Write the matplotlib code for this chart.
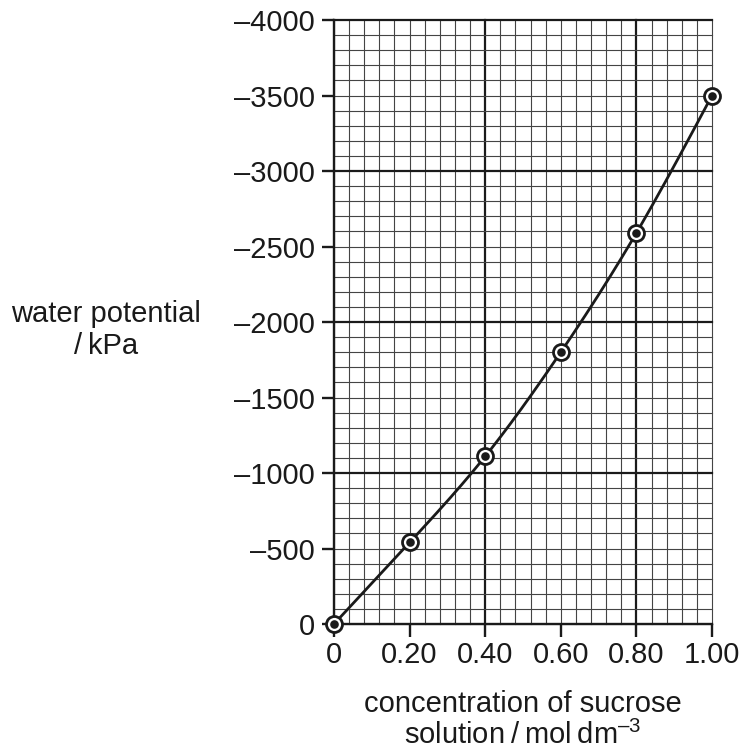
import numpy as np
import matplotlib
matplotlib.use('Agg')
from matplotlib import pyplot as plt

plt.rcParams['font.family'] = ['Liberation Sans', 'DejaVu Sans']
plt.rcParams['mathtext.fontset'] = 'custom'
plt.rcParams['mathtext.rm'] = 'Liberation Sans'
plt.rcParams['mathtext.it'] = 'Liberation Sans'

# dati
conc = [0.0, 0.20, 0.40, 0.60, 0.80, 1.00]
potential = [0, -540, -1110, -1800, -2590, -3500]
x_ticks = [0, 0.2, 0.4, 0.6, 0.8, 1.0]
x_ticklabels = ['0', '0.20', '0.40', '0.60', '0.80', '1.00']
y_ticks = [0, -500, -1000, -1500, -2000, -2500, -3000, -3500, -4000]
y_ticklabels = ['0'] + ['\u2013%d' % (-v) for v in y_ticks[1:]]


def natural_spline(x, y, xs):
    " spline cubica naturale passante per i punti "
    x = np.asarray(x, float)
    y = np.asarray(y, float)
    n = len(x)
    h = np.diff(x)
    A = np.zeros((n, n))
    b = np.zeros(n)
    A[0, 0] = A[-1, -1] = 1.
    for i in range(1, n - 1):
        A[i, i - 1] = h[i - 1]
        A[i, i] = 2 * (h[i - 1] + h[i])
        A[i, i + 1] = h[i]
        b[i] = 6 * ((y[i + 1] - y[i]) / h[i] - (y[i] - y[i - 1]) / h[i - 1])
    M = np.linalg.solve(A, b)
    idx = np.clip(np.searchsorted(x, xs) - 1, 0, n - 2)
    x0, x1 = x[idx], x[idx + 1]
    hi = x1 - x0
    t0, t1 = x1 - xs, xs - x0
    return (M[idx] * t0**3 / (6 * hi) + M[idx + 1] * t1**3 / (6 * hi)
            + (y[idx] / hi - M[idx] * hi / 6) * t0
            + (y[idx + 1] / hi - M[idx + 1] * hi / 6) * t1)


W, H = 741, 753
fig = plt.figure(figsize=(W / 100, H / 100), dpi=100)
ax = fig.add_axes([334 / W, 1 - 624 / H, 378 / W, 604 / H])
ax.set_xlim(0, 1.0)
ax.set_ylim(0, -4000)

# carta millimetrata
for xv in np.arange(0, 1.0001, 0.04):
    major = abs(xv / 0.4 - round(xv / 0.4)) < 1e-6 and xv > 0.01
    ax.plot([xv, xv], [0, -4000], color='#1a1a1a' if major else '#444444',
            lw=1.6 if major else 0.8, zorder=1, clip_on=False)
for yv in np.arange(0, -4001, -100):
    major = yv % 1000 == 0 and yv != 0
    ax.plot([0, 1.0], [yv, yv], color='#1a1a1a' if major else '#444444',
            lw=1.6 if major else 0.8, zorder=1, clip_on=False)

# curva e punti
xs = np.linspace(0, 1.0, 300)
ax.plot(xs, natural_spline(conc, potential, xs), color='#1a1a1a', lw=2.0,
        zorder=3, clip_on=False)
ax.plot(conc, potential, 'o', ms=11.5, mfc='white', mec='#1a1a1a', mew=2.0,
        zorder=4, clip_on=False)
ax.plot(conc, potential, 'o', ms=6.2, mfc='#1a1a1a', mec='#1a1a1a', mew=0,
        zorder=5, clip_on=False)

for s in ['top', 'right']:
    ax.spines[s].set_visible(False)
for s in ['left', 'bottom']:
    ax.spines[s].set_linewidth(1.7)
    ax.spines[s].set_color('#1a1a1a')
    ax.spines[s].set_zorder(2)

ax.set_xticks(x_ticks)
ax.set_xticklabels(x_ticklabels)
ax.set_yticks(y_ticks)
ax.set_yticklabels(y_ticklabels)
ax.tick_params(direction='out', length=9, width=1.7, color='#1a1a1a',
               labelsize=21, labelcolor='#1a1a1a')
ax.tick_params(axis='x', pad=3)
ax.tick_params(axis='y', pad=5)

fig.text(106 / W, 1 - 330 / H, 'water potential\n/\u2009kPa', ha='center',
         va='center', fontsize=21, color='#1a1a1a', linespacing=1.2)
fig.text(523 / W, 1 - 720 / H,
         'concentration of sucrose\nsolution\u2009/\u2009mol\u2009dm$^{\u2013 3}$',
         ha='center', va='center', fontsize=21, color='#1a1a1a',
         linespacing=1.15)

fig.savefig('out.png', dpi=100)
